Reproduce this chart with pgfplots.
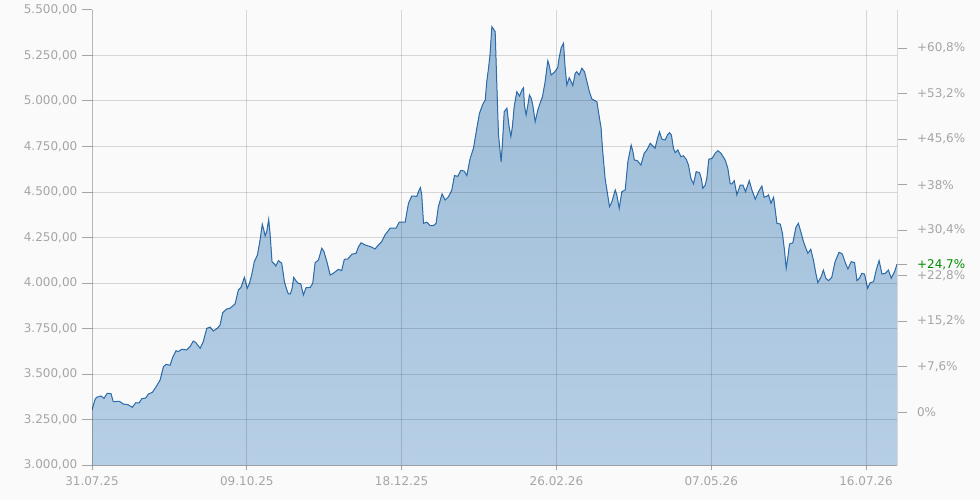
\documentclass[border=0pt]{standalone}
\usepackage{fontspec}
\setmainfont{DejaVu Sans}
\usepackage{xcolor}
\usepackage{pgfplots}
\pgfplotsset{compat=1.18}
\usepackage{pgfplotstable}
\usepgfplotslibrary{fillbetween}

\definecolor{bgc}{RGB}{250,250,250}
\definecolor{gridc}{RGB}{216,216,216}
\definecolor{labc}{RGB}{165,165,165}
\definecolor{linec}{RGB}{45,108,170}
\definecolor{filltop}{RGB}{156,187,214}
\definecolor{fillbot}{RGB}{182,207,230}
\definecolor{upgreen}{RGB}{0,140,0}

% day = days since 31.07.25, value = index level
\pgfplotstableread{
day value
0 3302
1.4 3361
2.1 3372
4.1 3379
5.4 3366
6.9 3394
8.6 3392
9.6 3348
12.4 3350
14.2 3335
16.4 3331
18.2 3317
19.8 3342
21.3 3341
22.5 3364
24.3 3368
25.5 3390
27.3 3399
29.0 3430
30.8 3467
32.3 3540
33.5 3553
35.3 3548
36.5 3592
38.0 3628
39.0 3623
40.6 3636
42.8 3632
44.3 3650
45.8 3681
47.0 3672
48.9 3641
50.3 3677
51.9 3751
53.4 3758
54.9 3736
56.9 3754
57.9 3769
59.1 3837
60.9 3857
62.4 3861
64.7 3885
66.2 3962
67.4 3976
68.9 4031
70.2 3971
71.2 3998
72.2 4044
73.4 4117
74.8 4154
76.0 4236
77.0 4323
77.7 4291
78.3 4258
79.0 4282
79.9 4350
80.5 4273
81.4 4117
82.5 4104
83.1 4093
84.3 4123
85.8 4108
87.0 4007
88.1 3962
88.8 3940
89.7 3940
90.5 3971
91.2 4031
92.3 4011
93.3 3998
94.4 3995
95.6 3934
96.8 3974
98.7 3976
99.8 3998
100.9 4112
102.4 4126
103.9 4191
104.9 4172
106.2 4117
107.7 4044
109.1 4053
111.4 4075
112.9 4068
114.1 4130
115.7 4132
117.5 4158
119.4 4163
120.5 4199
121.7 4221
123.5 4209
126.1 4199
128.0 4187
129.5 4209
131.0 4227
132.5 4264
134.8 4301
137.5 4301
138.9 4334
141.6 4334
143.1 4438
144.6 4478
146.9 4476
147.6 4502
148.5 4524
149.1 4484
149.9 4328
151.4 4334
152.9 4315
154.4 4315
155.6 4328
156.6 4419
158.3 4489
159.7 4456
161.2 4474
162.7 4511
163.9 4590
165.4 4586
166.8 4619
168.3 4615
169.5 4590
171.0 4685
172.5 4740
174.0 4850
175.2 4932
176.7 4982
177.8 5005
178.5 5106
179.3 5180
180.0 5257
180.8 5408
181.5 5396
182.3 5381
183.1 5070
183.8 4813
185.0 4666
185.6 4768
186.4 4941
187.6 4960
188.6 4859
189.4 4804
190.1 4859
190.9 4969
192.1 5051
193.3 5027
194.4 5060
195.1 5073
195.5 4978
196.3 4923
197.1 4978
197.8 5033
198.6 5015
199.3 4978
200.4 4886
201.6 4951
202.6 4987
203.7 5024
204.9 5106
206.1 5221
206.7 5198
207.6 5143
209.1 5158
210.6 5183
211.2 5235
212.1 5290
213.2 5317
213.9 5188
214.7 5088
215.8 5128
216.7 5106
217.4 5084
218.5 5152
219.2 5161
220.3 5143
221.5 5180
222.7 5161
223.8 5106
224.9 5051
226.0 5011
228.3 4996
229.0 4941
230.2 4850
230.8 4740
232.0 4575
233.3 4474
234.0 4419
235.1 4447
236.6 4511
237.3 4484
238.4 4410
239.6 4502
241.1 4511
242.3 4666
243.8 4758
244.6 4721
245.2 4676
246.6 4672
248.2 4648
249.7 4713
250.9 4731
252.4 4768
253.6 4753
254.6 4740
255.7 4795
256.6 4831
257.7 4790
259.2 4786
260.2 4813
261.1 4826
262.0 4813
262.9 4740
263.7 4716
264.9 4731
266.3 4694
267.4 4699
268.7 4680
269.7 4648
270.8 4575
272.0 4544
273.2 4612
274.7 4606
275.5 4575
276.2 4520
277.3 4538
278.0 4575
278.9 4680
280.4 4685
281.8 4713
283.0 4727
284.4 4713
286.3 4676
287.5 4630
288.6 4544
289.3 4544
290.4 4562
291.6 4484
293.1 4538
294.3 4538
295.5 4502
297.2 4562
298.4 4511
299.9 4460
301.4 4502
302.9 4533
303.9 4471
305.4 4478
305.9 4484
307.0 4438
308.2 4471
309.7 4328
311.2 4324
312.2 4273
313.1 4181
313.9 4081
314.7 4145
315.4 4214
316.9 4221
318.3 4306
319.4 4328
320.7 4273
321.7 4227
322.8 4191
323.7 4163
325.0 4185
326.2 4126
327.3 4053
328.2 4002
329.7 4035
330.7 4071
331.8 4026
333.0 4013
334.5 4031
336.0 4117
337.8 4169
339.3 4159
340.6 4112
341.8 4077
343.3 4117
344.8 4112
345.9 4013
347.0 4026
348.1 4053
349.3 4049
350.7 3971
351.9 4002
353.4 4007
354.6 4071
355.9 4123
357.2 4049
358.7 4053
360.1 4071
361.4 4026
362.9 4062
364.0 4103
}\kurs

\pagecolor{bgc}

\begin{document}
\begin{tikzpicture}
% page frame: 980 x 500 px at 0.75pt per px
\path (-69pt,-26.25pt) rectangle (666pt,348.75pt);

\begin{axis}[
  at={(0pt,0pt)}, anchor=south west,
  scale only axis, width=603.75pt, height=341.25pt,
  xmin=0, xmax=364, ymin=3000, ymax=5500,
  axis on top,
  axis x line*=bottom, axis y line*=left,
  axis line style={draw=black, draw opacity=0.14, line width=0.75pt, -},
  xtick={0,70,140,210,280,350},
  xticklabels={31.07.25,09.10.25,18.12.25,26.02.26,07.05.26,16.07.26},
  ytick={3000,3250,...,5250},
  yticklabels={{3.000,00},{3.250,00},{3.500,00},{3.750,00},{4.000,00},{4.250,00},{4.500,00},{4.750,00},{5.000,00},{5.250,00}},
  extra y ticks={5500}, extra y tick labels={5.500{,}00},
  extra y tick style={grid=none},
  grid=major, grid style={draw=black, draw opacity=0.14, line width=0.75pt},
  tick align=outside, major tick length=7.5pt,
  xtick style={/pgfplots/major tick length=3.75pt},
  tick style={draw=labc, line width=0.75pt},
  ticklabel style={font=\fontsize{9}{11}\selectfont, text=labc},
  xticklabel style={yshift=2pt},
]
\addplot[name path=kurs, draw=none, forget plot] table[x=day, y=value]{\kurs};
\path[name path=base] (axis cs:0,3000) -- (axis cs:364,3000);
\addplot[top color=filltop, bottom color=fillbot, draw=none]
  fill between[of=kurs and base];
\addplot[draw=linec, line width=0.75pt] table[x=day, y=value]{\kurs};
\end{axis}

\begin{axis}[
  at={(0pt,0pt)}, anchor=south west,
  scale only axis, width=603.75pt, height=341.25pt,
  xmin=0, xmax=364, ymin=3000, ymax=5500,
  axis x line=none, axis y line*=right,
  axis line style={draw=gridc, line width=0.75pt, -},
  ytick={3290,3540,...,5290},
  yticklabels={{0\%},{+7,6\%},{+15,2\%},{+22,8\%},{+30,4\%},{+38\%},{+45,6\%},{+53,2\%},{+60,8\%}},
  extra y ticks={4103}, extra y tick labels={+24{,}7\%},
  extra y tick style={yticklabel style={text=upgreen}},
  tick align=outside, major tick length=7.5pt,
  tick style={draw=labc, line width=0.75pt},
  ticklabel style={font=\fontsize{9}{11}\selectfont, text=labc},
  yticklabel style={xshift=4pt},
]
\end{axis}
\end{tikzpicture}
\end{document}
